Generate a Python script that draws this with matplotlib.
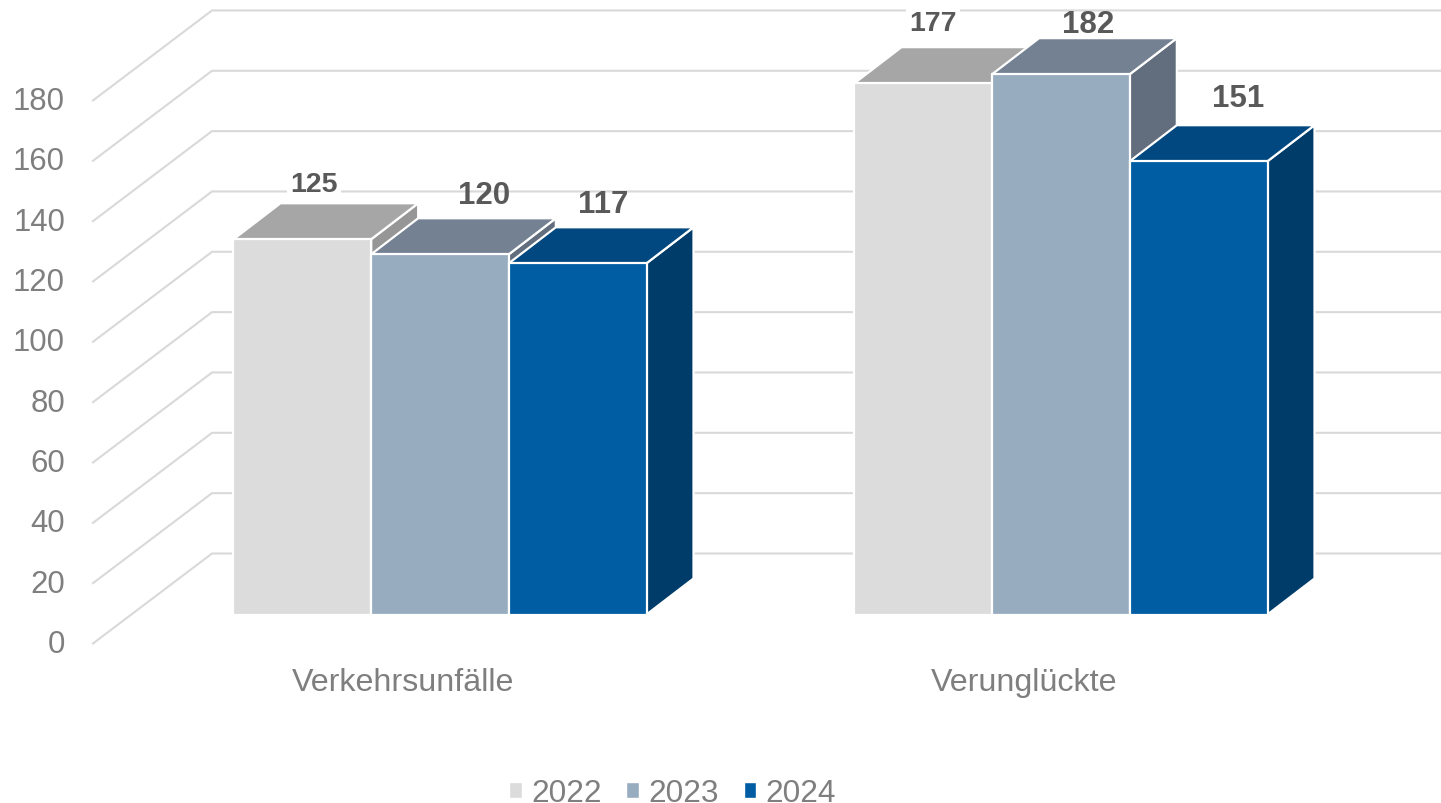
import numpy as np
import matplotlib
matplotlib.use('Agg')
import matplotlib.pyplot as plt
from matplotlib.patches import Patch

plt.rcParams['font.family'] = ['Liberation Sans', 'DejaVu Sans']

# Data
categories = ['Verkehrsunfälle', 'Verunglückte']
years = ['2022', '2023', '2024']
values_2022 = [125, 177]
values_2023 = [120, 182]
values_2024 = [117, 151]
y_ticks = [0, 20, 40, 60, 80, 100, 120, 140, 160, 180]

# Colours per year: front, top, side
front_colors = ['#DCDCDC', '#98ACC0', '#005DA3']
top_colors = ['#A6A6A6', '#738192', '#00487F']
side_colors = ['#969696', '#626E7D', '#003C69']
grid_color = '#D9D9D9'
tick_color = '#7F7F7F'
label_color = '#595959'

# Pixel geometry of the fake 3D scene
W, H = 1441, 804
px_per_value = 3.017
px_per_cat = 621.0
cat0_px = 440.5
wall_zero_px = 554.5
y_max = 180

fig = plt.figure(figsize=(W / 100, H / 100), dpi=100)
ax = fig.add_axes([0, 0, 1, 1])
ax.set_xlim(-cat0_px / px_per_cat, (W - cat0_px) / px_per_cat)
ax.set_ylim((wall_zero_px - H) / px_per_value, wall_zero_px / px_per_value)
ax.axis('off')

dx = 1 / px_per_cat      # one pixel in x data units
dy = 1 / px_per_value    # one pixel in y data units
bar_width = 137.67 * dx
bar_base = -61 * dy
bar_scale = 0.995
depth_x, depth_y = 47 * dx, 36 * dy
wall_x = 212 * dx + ax.get_xlim()[0]
wall_dx, wall_dy = 119 * dx, 90 * dy

# Wall and floor grid lines
for v in y_ticks:
    ax.plot([wall_x - wall_dx, wall_x, ax.get_xlim()[1]],
            [v - wall_dy, v, v], color=grid_color, lw=1.5, zorder=1,
            solid_joinstyle='miter')
    ax.text(65 * dx + ax.get_xlim()[0], v - wall_dy - 0.5 * dy, str(v),
            ha='right', va='center', fontsize=22.4, color=tick_color)

# (x, y) pixel shift of each value label from the top front centre of its bar
label_shift = [[(11, 55), (43.5, 59), (25, 59)],
               [(9, 60), (26.5, 50.5), (39, 63)]]
label_size = [[20.5, 22.5, 22.5], [20.5, 22.5, 22.5]]
series = [values_2022, values_2023, values_2024]

# Bars left to right so that each one overlaps its left neighbour
lw = 1.6
z = 3
for c in range(len(categories)):
    for s in range(len(years)):
        val = series[s][c]
        x0 = c + (s - 1.5) * bar_width - 0.5 * dx
        x1 = x0 + bar_width
        y0 = bar_base
        y1 = bar_base + min(val, y_max) * bar_scale
        ax.fill([x1, x1 + depth_x, x1 + depth_x, x1],
                [y0, y0 + depth_y, y1 + depth_y, y1],
                facecolor=side_colors[s], edgecolor='white', lw=lw, zorder=z,
                joinstyle='miter')
        ax.fill([x0, x0 + depth_x, x1 + depth_x, x1],
                [y1, y1 + depth_y, y1 + depth_y, y1],
                facecolor=top_colors[s], edgecolor='white', lw=lw, zorder=z + 1,
                joinstyle='miter')
        ax.fill([x0, x1, x1, x0], [y0, y0, y1, y1],
                facecolor=front_colors[s], edgecolor='white', lw=lw, zorder=z + 2,
                joinstyle='miter')
        z += 3

# Value labels
for c in range(len(categories)):
    for s in range(len(years)):
        val = series[s][c]
        xc = c + (s - 1) * bar_width
        yt = bar_base + min(val, y_max) * bar_scale
        sx, sy = label_shift[c][s]
        box = dict(facecolor='white', edgecolor='none', pad=2.5) if label_size[c][s] == 20.5 else None
        ax.annotate(str(val), (xc, yt), xytext=(sx * 0.72, sy * 0.72),
                    textcoords='offset points', ha='center', va='center',
                    fontsize=label_size[c][s], fontweight='bold',
                    color=label_color, bbox=box, zorder=100)

# Category labels
for c, name in enumerate(categories):
    ax.text(c - 37 * dx, (wall_zero_px - 683) * dy, name, ha='center', va='center',
            fontsize=23.2, color=tick_color)

# Legend
handles = [Patch(facecolor=col, edgecolor='white', label=y) for col, y in zip(front_colors, years)]
fig.legend(handles=handles, loc='center', bbox_to_anchor=(672.5 / W, 1 - 794.5 / H), ncols=3,
           frameon=False, fontsize=22.8, labelcolor=tick_color, handlelength=0.4,
           handleheight=0.42, handletextpad=0.3, columnspacing=0.78, borderpad=0)

plt.savefig('out.png', dpi=100)
